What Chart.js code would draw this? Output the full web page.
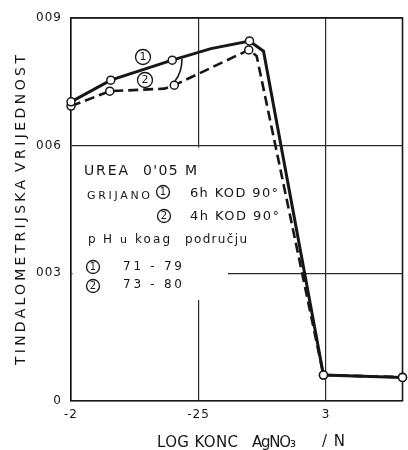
<!DOCTYPE html>
<html><head><meta charset="utf-8">
<script src="https://cdn.jsdelivr.net/npm/chart.js@4.4.1/dist/chart.umd.min.js"></script>
<style>html,body{margin:0;padding:0;background:#fff;}#wrap{width:408px;height:450px;position:relative;}</style>
</head><body><div id="wrap"><canvas id="c"></canvas></div>
<script>
// ---- data ----
const xTickValues = [-2, -2.5, -3];
const xTickLabels = ['-2', '-25', '3'];
const yTickValues = [0, 0.03, 0.06, 0.09];
const yTickLabels = ['0', '003', '006', '009'];

// curve 1 (solid): log konc AgNO3 / tindalometric value; marked = drawn circle
const series1X = [-2.0, -2.156, -2.397, -2.549, -2.70, -2.755, -2.99, -3.3];
const series1Y = [0.0703, 0.0754, 0.0801, 0.0828, 0.0846, 0.0822, 0.0061, 0.0055];
const series1Marked = [1, 1, 1, 0, 1, 0, 1, 1];
// curve 2 (dashed)
const series2X = [-2.0, -2.152, -2.366, -2.405, -2.697, -2.728, -2.99, -3.3];
const series2Y = [0.0693, 0.0728, 0.0734, 0.0742, 0.0825, 0.0811, 0.0061, 0.0056];
const series2Marked = [1, 1, 0, 1, 1, 0, 1, 1];

const INK = '#161616';
const GRID = '#2a2a2a';
const FAM = '"DejaVu Sans", "Liberation Sans", sans-serif';

function labelFor(vals, labels, v) {
  for (let i = 0; i < vals.length; i++) if (Math.abs(vals[i] - v) < 1e-9) return labels[i];
  return '';
}
function fitText(ctx, text, x, y, width, size) {
  ctx.font = size + 'px ' + FAM;
  ctx.letterSpacing = '0px';
  const w = ctx.measureText(text).width;
  const n = [...text].length;
  const sp = n > 1 ? (width - w) / (n - 1) : 0;
  ctx.letterSpacing = sp.toFixed(2) + 'px';
  ctx.textAlign = 'left';
  ctx.textBaseline = 'alphabetic';
  ctx.fillText(text, x, y);
  ctx.letterSpacing = '0px';
}
function circ(ctx, cx, cy, r, label, size) {
  ctx.beginPath();
  ctx.arc(cx, cy, r, 0, Math.PI * 2);
  ctx.lineWidth = 1.3;
  ctx.strokeStyle = INK;
  ctx.stroke();
  ctx.font = size + 'px ' + FAM;
  ctx.letterSpacing = '0px';
  ctx.textAlign = 'center';
  ctx.textBaseline = 'middle';
  ctx.fillText(label, cx, cy + 0.5);
}

const deco = {
  id: 'deco',
  beforeDraw(chart) {
    chart.ctx.letterSpacing = '1px';
  },
  beforeDatasetsDraw(chart) {
    const ctx = chart.ctx, a = chart.chartArea;
    ctx.save();
    // blank area of the hand-drawn note (grid interrupted)
    ctx.fillStyle = '#fff';
    ctx.fillRect(a.left + 1.5, 147.5, 228 - a.left - 1.5, 300 - 147.5);
    // top and right frame
    ctx.strokeStyle = INK;
    ctx.lineWidth = 1.6;
    ctx.beginPath();
    ctx.moveTo(a.left, a.top); ctx.lineTo(a.right, a.top); ctx.lineTo(a.right, a.bottom);
    ctx.stroke();
    ctx.restore();
  },
  afterDraw(chart) {
    const ctx = chart.ctx;
    ctx.save();
    ctx.fillStyle = INK;
    // y axis title (rotated)
    ctx.save();
    ctx.translate(25, 0);
    ctx.rotate(-Math.PI / 2);
    fitText(ctx, 'TINDALOMETRIJSKA', -365, 0, 185, 14);
    fitText(ctx, 'VRIJEDNOST', -172, 0, 117, 14);
    ctx.restore();
    // x axis title
    fitText(ctx, 'LOG KONC', 157, 447, 81, 15);
    fitText(ctx, 'AgNO\u2083', 252, 447, 44, 15);
    fitText(ctx, '/N', 322, 446, 23, 15);
    // note
    fitText(ctx, 'UREA', 84, 175, 44, 14);
    fitText(ctx, "0'05 M", 143, 175, 54, 14);
    fitText(ctx, 'GRIJANO', 87, 199, 63, 11);
    circ(ctx, 163, 192, 6.5, '1', 10);
    fitText(ctx, '6h KOD 90°', 190, 197, 88, 13);
    circ(ctx, 164, 216, 6.5, '2', 10);
    fitText(ctx, '4h KOD 90°', 190, 220, 89, 13);
    fitText(ctx, 'pH', 88, 243, 24, 12);
    fitText(ctx, 'u', 120, 243, 8, 11);
    fitText(ctx, 'koag', 135, 243, 35, 12);
    fitText(ctx, 'području', 185, 243, 62, 12);
    circ(ctx, 93, 267, 6.5, '1', 10);
    fitText(ctx, '71 - 79', 123, 270, 59, 12);
    circ(ctx, 93, 286, 6.5, '2', 10);
    fitText(ctx, '73 - 80', 123, 288, 59, 12);
    // curve labels
    ctx.fillStyle = '#fff';
    ctx.beginPath(); ctx.arc(143, 57, 7.5, 0, Math.PI * 2); ctx.fill();
    ctx.beginPath(); ctx.arc(145, 80, 7.5, 0, Math.PI * 2); ctx.fill();
    ctx.fillStyle = INK;
    circ(ctx, 143, 57, 7.5, '1', 11);
    circ(ctx, 145, 80, 7.5, '2', 11);
    ctx.beginPath();
    ctx.moveTo(182, 59);
    ctx.quadraticCurveTo(182, 72, 175, 81);
    ctx.lineWidth = 1.6;
    ctx.stroke();
    ctx.restore();
  }
};

function pts(xs, ys) { return xs.map((x, i) => ({ x: x, y: ys[i] })); }

new Chart(document.getElementById('c'), {
  type: 'line',
  data: {
    datasets: [
      {
        label: '1', data: pts(series1X, series1Y),
        borderColor: INK, borderWidth: 3, tension: 0, clip: false,
        pointRadius: series1Marked.map(m => m ? 4 : 0),
        pointBackgroundColor: '#fff', pointBorderColor: INK, pointBorderWidth: 1.5
      },
      {
        label: '2', data: pts(series2X, series2Y),
        borderColor: INK, borderWidth: 2.6, borderDash: [10, 5], tension: 0, clip: false,
        pointRadius: series2Marked.map(m => m ? 4 : 0),
        pointBackgroundColor: '#fff', pointBorderColor: INK, pointBorderWidth: 1.5
      }
    ]
  },
  options: {
    responsive: true, maintainAspectRatio: false, animation: false, events: [],
    layout: { padding: { top: 18, right: 4, left: 0, bottom: 0 } },
    plugins: { legend: { display: false }, tooltip: { enabled: false } },
    scales: {
      x: {
        type: 'linear', reverse: true, min: -3.3, max: -2,
        afterBuildTicks: s => { s.ticks = xTickValues.map(v => ({ value: v })); },
        afterFit: s => { s.height = 49; },
        ticks: { callback: v => labelFor(xTickValues, xTickLabels, v), padding: 7, color: INK,
                 font: { family: FAM, size: 12 }, maxRotation: 0, autoSkip: false },
        grid: { color: GRID, lineWidth: 1.2, drawTicks: false },
        border: { color: INK, width: 1.6 }
      },
      y: {
        type: 'linear', min: 0, max: 0.09,
        afterBuildTicks: s => { s.ticks = yTickValues.map(v => ({ value: v })); },
        afterFit: s => { s.width = 71; },
        ticks: { callback: v => labelFor(yTickValues, yTickLabels, v), padding: 9, color: INK,
                 font: { family: FAM, size: 12 }, autoSkip: false },
        grid: { color: GRID, lineWidth: 1.2, drawTicks: false },
        border: { color: INK, width: 1.6 }
      }
    }
  },
  plugins: [deco]
});
</script>
</body></html>
